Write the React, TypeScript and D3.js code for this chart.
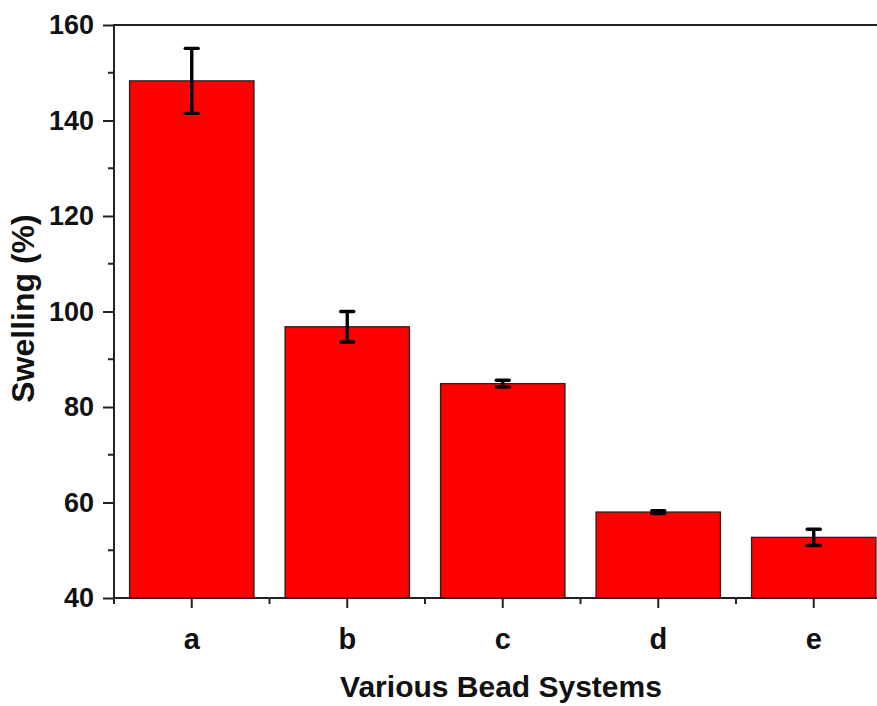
import * as d3 from "d3"
import { useEffect, useRef } from "react"

const categories = ["a", "b", "c", "d", "e"]
const swelling = [148.3, 96.8, 84.9, 58.0, 52.7]
const errors = [6.8, 3.2, 0.7, 0.3, 1.7]
const yTicks = [40, 60, 80, 100, 120, 140, 160]
const yMinorTicks = [50, 70, 90, 110, 130, 150]

export default function App() {
  const ref = useRef<SVGSVGElement>(null)

  useEffect(() => {
    const W = 877, H = 706
    const margin = { top: 25, left: 114, bottom: 108 }
    const svg = d3.select(ref.current)
    svg.selectAll("*").remove()

    const data = categories.map((c, i) => ({ cat: c, v: swelling[i], err: errors[i] }))

    // x band, step ~155.5px, plot runs off the right side of the picture
    const x = d3.scaleBand<string>()
      .domain(categories)
      .range([margin.left, margin.left + 777.5])
      .paddingInner(0.2)
      .paddingOuter(0.1)

    const y = d3.scaleLinear()
      .domain([40, 160])
      .range([H - margin.bottom, margin.top])

    const font = "'Liberation Sans', Arial, sans-serif"

    // bars
    svg.append("g").selectAll("rect").data(data)
      .enter().append("rect")
      .attr("x", d => x(d.cat)!)
      .attr("width", x.bandwidth())
      .attr("y", d => y(d.v))
      .attr("height", d => y(40) - y(d.v))
      .attr("fill", "#ff0000")
      .attr("stroke", "#222")
      .attr("stroke-width", 1.3)

    // error bars
    const eb = svg.append("g").attr("stroke", "#000").attr("stroke-width", 3.4)
    data.forEach(d => {
      const cx = x(d.cat)! + x.bandwidth() / 2
      eb.append("line")
        .attr("x1", cx).attr("x2", cx)
        .attr("y1", y(d.v + d.err)).attr("y2", y(d.v - d.err))
      ;[d.v + d.err, d.v - d.err].forEach(val => {
        eb.append("line")
          .attr("x1", cx - 6.5).attr("x2", cx + 6.5)
          .attr("y1", y(val)).attr("y2", y(val))
          .attr("stroke-linecap", "round")
      })
    })

    // top frame line
    svg.append("line")
      .attr("x1", margin.left).attr("x2", W)
      .attr("y1", margin.top).attr("y2", margin.top)
      .attr("stroke", "#222").attr("stroke-width", 2)

    // y axis
    const yAxis = svg.append("g")
      .attr("transform", `translate(${margin.left},0)`)
      .call(d3.axisLeft(y).tickValues(yTicks).tickSize(11).tickPadding(9).tickFormat(d3.format("d")))
    yAxis.select(".domain").attr("stroke", "#222").attr("stroke-width", 2)
      .attr("d", `M0,${y(160) - 1}V${y(40) + 1}`)
    yAxis.selectAll(".tick line").attr("stroke", "#222").attr("stroke-width", 2)
    yAxis.selectAll("text")
      .style("font-family", font).style("font-weight", "bold").style("font-size", "27px").attr("fill", "#111")

    svg.append("g").selectAll("line").data(yMinorTicks)
      .enter().append("line")
      .attr("x1", margin.left - 6).attr("x2", margin.left)
      .attr("y1", d => y(d)).attr("y2", d => y(d))
      .attr("stroke", "#222").attr("stroke-width", 2)

    // x axis
    const xAxis = svg.append("g")
      .attr("transform", `translate(0,${y(40)})`)
      .call(d3.axisBottom(x).tickSize(10).tickPadding(20))
    xAxis.select(".domain").attr("stroke", "#222").attr("stroke-width", 2)
      .attr("d", `M${margin.left - 1},0H${W}`)
    xAxis.selectAll(".tick line").attr("stroke", "#222").attr("stroke-width", 2)
    xAxis.selectAll("text")
      .style("font-family", font).style("font-weight", "bold").style("font-size", "29px").attr("fill", "#111")

    // minor ticks between categories
    const minorX = categories.map(c => x(c)! - x.step() * x.paddingInner() / 2)
    svg.append("g").selectAll("line").data(minorX)
      .enter().append("line")
      .attr("x1", d => d).attr("x2", d => d)
      .attr("y1", y(40)).attr("y2", y(40) + 6)
      .attr("stroke", "#222").attr("stroke-width", 2)

    // axis titles
    svg.append("text")
      .attr("x", 501)
      .attr("y", 697)
      .attr("text-anchor", "middle")
      .style("font-family", font).style("font-weight", "bold").style("font-size", "30px")
      .attr("fill", "#111")
      .text("Various Bead Systems")

    svg.append("text")
      .attr("transform", `translate(34,${(y(40) + y(160)) / 2 - 3}) rotate(-90)`)
      .attr("text-anchor", "middle")
      .style("font-family", font).style("font-weight", "bold").style("font-size", "32px")
      .attr("fill", "#111")
      .text("Swelling (%)")
  }, [])

  return (
    <svg ref={ref} width={877} height={706}
      style={{ position: "absolute", left: 0, top: 0, background: "#fff" }} />
  )
}
